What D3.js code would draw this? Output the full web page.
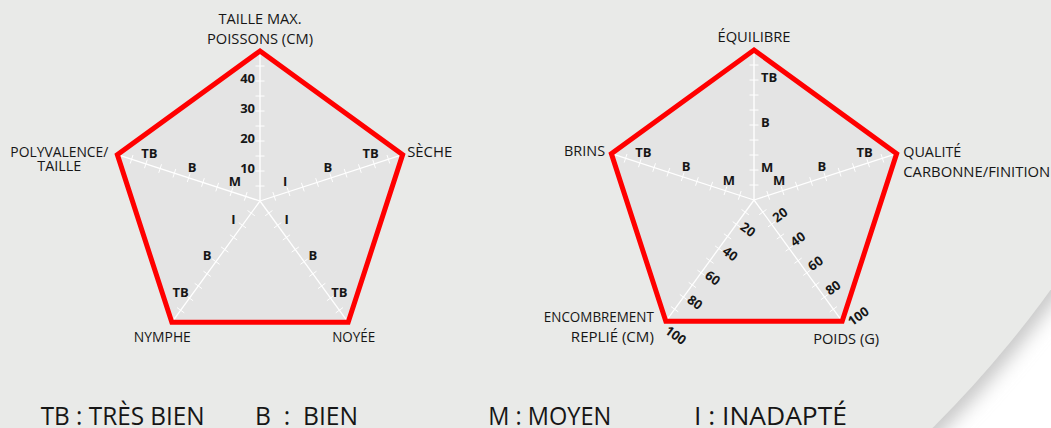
<!DOCTYPE html>
<html>
<head>
<meta charset="utf-8">
<script src="https://cdn.jsdelivr.net/npm/d3@7/dist/d3.min.js"></script>
<style>
    body { margin: 0; background: #ffffff; }
    text { font-family: "Open Sans", sans-serif; fill: #161616; }
</style>
</head>
<body>
<div id="id_chart"></div>
<script>
// ---- data ----
// left radar (canne / usage)
const left_axes = ["TAILLE MAX.|POISSONS (CM)", "SÈCHE", "NOYÉE", "NYMPHE", "POLYVALENCE/|TAILLE"];
const left_max = [50, 10, 10, 10, 10];
const left_values = [50, 10, 10, 10, 10];
const left_tick_labels = [["10", "20", "30", "40"], ["I", "B", "TB"], ["I", "B", "TB"], ["I", "B", "TB"], ["M", "B", "TB"]];
const left_tick_values = [[10, 20, 30, 40], [2, 5, 8], [2, 5, 8], [2, 5, 8], [2, 5, 8]];

// right radar (construction)
const right_axes = ["ÉQUILIBRE", "QUALITÉ|CARBONNE/FINITION", "POIDS (G)", "ENCOMBREMENT|REPLIÉ (CM)", "BRINS"];
const right_max = [10, 10, 100, 100, 10];
const right_values = [10, 10, 100, 100, 10];
const right_tick_labels = [["M", "B", "TB"], ["M", "B", "TB"], ["20", "40", "60", "80", "100"], ["20", "40", "60", "80", "100"], ["M", "B", "TB"]];
const right_tick_values = [[2, 5, 8], [2, 5, 8], [20, 40, 60, 80, 100], [20, 40, 60, 80, 100], [2, 5, 8]];

// legend
const legend_labels = ["TB : TRÈS BIEN", "B  :  BIEN", "M : MOYEN", "I : INADAPTÉ"];

const width = 1051;
const height = 428;
const radius = 150;
const tick_half = 4.5;

var svg = d3.select("#id_chart")
    .append("svg")
    .attr("width", width)
    .attr("height", height);

// background: big grey disc with a soft shadow on the lower right
var defs = svg.append("defs");
defs.append("filter")
    .attr("id", "id_shadow")
    .attr("x", "-10%").attr("y", "-10%").attr("width", "120%").attr("height", "120%")
    .append("feGaussianBlur")
    .attr("stdDeviation", 9);

svg.append("rect").attr("width", width).attr("height", height).attr("fill", "#ffffff");
svg.append("circle")
    .attr("cx", 164).attr("cy", -348).attr("r", 1102)
    .attr("fill", "#c9c9c9")
    .attr("filter", "url(#id_shadow)");
svg.append("circle")
    .attr("cx", 157).attr("cy", -355).attr("r", 1102)
    .attr("fill", "#e9eae8");

function draw_radar(cx, cy, axes, maxs, values, tick_labels, tick_values, opts) {
    var g = svg.append("g").attr("transform", "translate(" + cx + "," + cy + ")");
    var n = axes.length;
    var angle = function (i) { return i * 2 * Math.PI / n; };
    var dir = function (i) { return [Math.sin(angle(i)), -Math.cos(angle(i))]; };
    var scales = maxs.map(function (m) { return d3.scaleLinear().domain([0, m]).range([0, radius]); });

    // pentagon frame
    var pts = values.map(function (v, i) {
        var r = scales[i](v), d = dir(i);
        return [d[0] * r, d[1] * r];
    });
    var line = d3.line().curve(d3.curveLinearClosed);
    g.append("path")
        .attr("d", line(pts))
        .attr("fill", "#e4e4e4");

    // axes + ticks
    for (var i = 0; i < n; i++) {
        var d = dir(i);
        var nrm = [-d[1], d[0]];
        g.append("line")
            .attr("x1", 0).attr("y1", 0)
            .attr("x2", d[0] * radius).attr("y2", d[1] * radius)
            .attr("stroke", "white").attr("stroke-width", 1.3);
        var ticks = scales[i].ticks(10).filter(function (t) { return t > 0 && t < maxs[i]; });
        if (maxs[i] == 50) ticks = d3.range(5, 50, 5);
        g.selectAll(null)
            .data(ticks)
            .enter()
            .append("line")
            .attr("x1", function (t) { return d[0] * scales[i](t) + nrm[0] * tick_half; })
            .attr("y1", function (t) { return d[1] * scales[i](t) + nrm[1] * tick_half; })
            .attr("x2", function (t) { return d[0] * scales[i](t) - nrm[0] * tick_half; })
            .attr("y2", function (t) { return d[1] * scales[i](t) - nrm[1] * tick_half; })
            .attr("stroke", "white").attr("stroke-width", 1);
    }

    // red outline
    g.append("path")
        .attr("d", line(pts))
        .attr("fill", "none")
        .attr("stroke", "#ff0000")
        .attr("stroke-width", 5)
        .attr("stroke-linejoin", "miter");

    // tick labels (drawn over the outline)
    for (var i = 0; i < n; i++) {
        var d = dir(i);
        var a = angle(i) * 180 / Math.PI;
        var s = scales[i];
        var mx = maxs[i];
        var lbl = tick_labels[i].map(function (t, k) { return { text: t, v: tick_values[i][k] }; });
        var sel = g.selectAll(null).data(lbl).enter().append("text")
            .text(function (o) { return o.text; })
            .style("font-size", "13px")
            .style("font-weight", "700")
            .attr("dominant-baseline", "central");
        if (i == 0) {
            // vertical axis: labels beside the line
            var side = opts.top_side;
            sel.attr("x", side * (side < 0 ? 5 : 7))
                .attr("y", function (o) { return -s(o.v) - 3.5; })
                .attr("text-anchor", side < 0 ? "end" : "start");
        } else if (mx == 100) {
            // numeric axes at the bottom, rotated across the axis
            var nrm = [-Math.cos(angle(i)), -Math.sin(angle(i))];
            var rot = a - 180;
            sel.attr("text-anchor", "start")
                .attr("transform", function (o) {
                    // last one sits past the corner
                    var r = s(o.v) - 3 + (o.v == mx ? 8 : 0);
                    var x = d[0] * r + nrm[0] * 5, y = d[1] * r + nrm[1] * 5;
                    return "translate(" + x + "," + y + ") rotate(" + rot + ")";
                });
        } else {
            var nrm = a < 180 ? [-Math.cos(angle(i)), -Math.sin(angle(i))] : [Math.cos(angle(i)), Math.sin(angle(i))];
            sel.attr("text-anchor", "middle")
                .attr("x", function (o) { return d[0] * s(o.v) + nrm[0] * 11; })
                .attr("y", function (o) { return d[1] * s(o.v) + nrm[1] * 11; });
        }
    }

    // axis names
    axes.forEach(function (name, i) {
        var r = scales[i](maxs[i]), d = dir(i);
        var o = opts.name_pos[i];
        var t = g.append("text")
            .attr("text-anchor", o[2])
            .style("font-size", "14.5px")
            .style("font-weight", "500");
        name.split("|").forEach(function (part, k) {
            t.append("tspan")
                .attr("x", d[0] * r + o[0])
                .attr("y", d[1] * r + o[1] + k * o[3])
                .attr("textLength", opts.name_w[i][k])
                .attr("lengthAdjust", "spacingAndGlyphs")
                .text(part);
        });
    });
}

draw_radar(260, 201, left_axes, left_max, left_values, left_tick_labels, left_tick_values, {
    top_side: -1,
    name_pos: [[0, -27, "middle", 20], [4.5, 2.5, "start", 0], [5.5, 19.3, "middle", 0], [-9.5, 19.3, "middle", 0], [-58, 2, "middle", 14]],
    name_w: [[83, 106], [45], [43], [57], [98, 44]]
});
draw_radar(754, 200, right_axes, right_max, right_values, right_tick_labels, right_tick_values, {
    top_side: 1,
    name_pos: [[0, -8, "middle", 0], [6.6, 3, "start", 20], [4, 22.6, "middle", 0], [-12, 0.3, "end", 20], [-6.3, 2.4, "end", 0]],
    name_w: [[73], [58, 147], [66], [110, 83], [41]]
});

// legend along the bottom
var legend_x = [40.7, 255, 488.3, 694];
var legend_w = [164, 103, 123, 153];
svg.selectAll(null)
    .data(legend_labels)
    .enter()
    .append("text")
    .attr("x", function (d, i) { return legend_x[i]; })
    .attr("y", 425)
    .attr("textLength", function (d, i) { return legend_w[i]; })
    .attr("lengthAdjust", "spacingAndGlyphs")
    .style("white-space", "pre")
    .style("font-size", "25px")
    .text(function (d) { return d; });
</script>
</body>
</html>
